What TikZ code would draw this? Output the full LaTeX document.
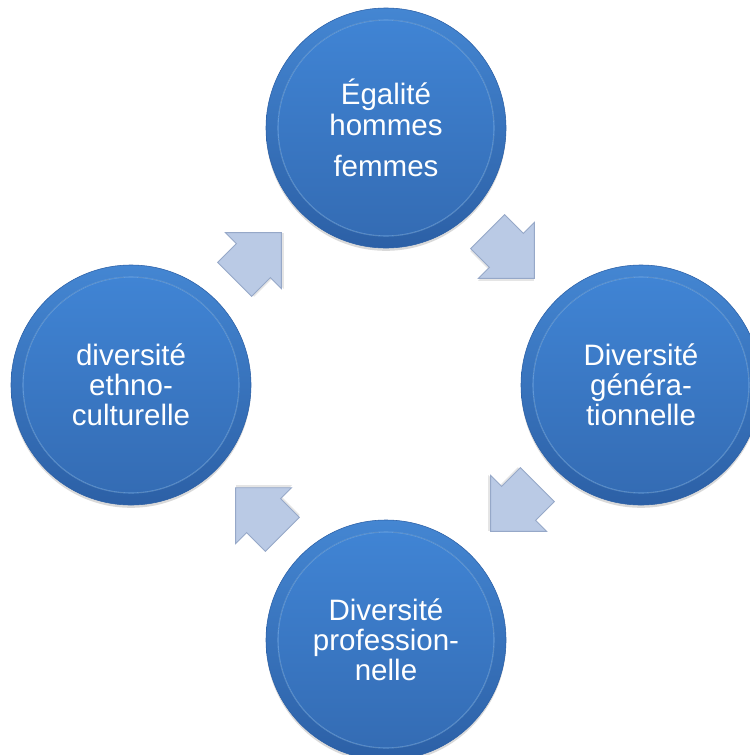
\documentclass[tikz,border=0pt]{standalone}
\usepackage{fontspec}
\setmainfont{Liberation Sans}
\definecolor{rimtop}{RGB}{68,134,210}
\definecolor{rimbot}{RGB}{44,96,166}
\definecolor{disktop}{RGB}{64,132,212}
\definecolor{diskbot}{RGB}{52,108,180}
\definecolor{ringlight}{RGB}{120,172,228}
\definecolor{arrowfill}{RGB}{186,202,229}
\definecolor{arrowline}{RGB}{150,168,200}
\tikzset{
  bubble/.style={circle, minimum size=6cm, inner sep=0pt, top color=rimtop, bottom color=rimbot,
    draw=rimbot, line width=0.4pt,
    preaction={fill=black, opacity=0.15, transform canvas={yshift=-2pt}}},
  disk/.style={top color=disktop, bottom color=diskbot, draw=ringlight, draw opacity=0.6, line width=0.8pt},
  label/.style={text=white, align=center, font=\fontsize{21}{21.5}\selectfont},
  arrowbody/.style={fill=arrowfill, draw=arrowline, line width=0.6pt, line join=miter},
  cyclearrow/.pic={
    \begin{scope}[scale=0.25]
    \fill[black, opacity=0.10, shift={(0.15,-0.2)}] (-3.3,-2.4) -- (-0.65,-2.4) -- (-0.65,-3.95) -- (3.3,0) -- (-0.65,3.95) -- (-0.65,2.4) -- (-3.3,2.4) -- cycle;
    \draw[arrowbody] (-3.3,-2.4) -- (-0.65,-2.4) -- (-0.65,-3.95) -- (3.3,0) -- (-0.65,3.95) -- (-0.65,2.4) -- (-3.3,2.4) -- cycle;
    \end{scope}
  }
}
\begin{document}
\begin{tikzpicture}[scale=0.25]
\useasboundingbox (0,0) rectangle (74.9,-75.5);
\node [bubble] (egalite) at (38.6,-12.8) {};
\node [bubble] (generation) at (64.1,-38.5) {};
\node [bubble] (profession) at (38.6,-64.0) {};
\node [bubble] (ethno) at (13.1,-38.5) {};
\foreach \n in {egalite,generation,profession,ethno}
  \fill [disk] (\n.center) circle (10.8);
\node [label] (egalitetext) at (egalite.center) {Égalité\\hommes\\[8pt]femmes};
\node [label] (generationtext) at (generation.center) {Diversité\\généra-\\tionnelle};
\node [label] (professiontext) at (profession.center) {Diversité\\profession-\\nelle};
\node [label] (ethnotext) at (ethno.center) {diversité\\ethno-\\culturelle};
\pic [rotate=-45] (arrow1) at (51.1,-25.5) {cyclearrow};
\pic [rotate=-135] (arrow2) at (51.4,-50.8) {cyclearrow};
\pic [rotate=135] (arrow3) at (25.9,-51.1) {cyclearrow};
\pic [rotate=45] (arrow4) at (25.8,-25.6) {cyclearrow};
\end{tikzpicture}
\end{document}
